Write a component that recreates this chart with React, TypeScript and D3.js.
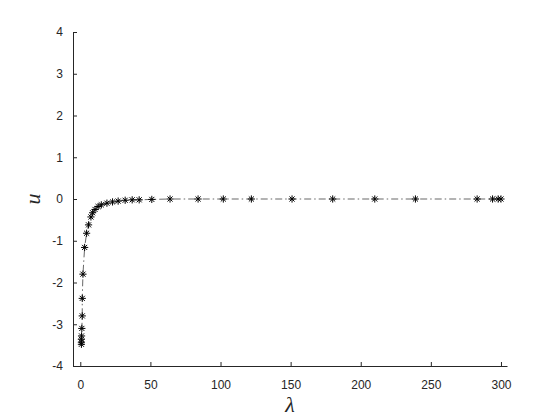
import React, { useEffect, useRef } from 'react';
import * as d3 from 'd3';

// data
const lambdaValues = [
  0.8, 0.8, 0.8, 0.9, 1.1, 1.4, 1.4, 1.9, 3.1, 4.5, 5.9, 7.6, 8.8, 10.5, 12.7, 15, 19, 23, 27, 32, 37, 42,
  51, 64, 84, 102, 122, 151, 180, 210, 239, 283, 294, 298, 300,
];
const uValues = [
  -3.48, -3.43, -3.36, -3.28, -3.1, -2.8, -2.38, -1.8, -1.16, -0.82, -0.62, -0.43, -0.33, -0.25, -0.18,
  -0.14, -0.1, -0.07, -0.05, -0.03, -0.02, -0.02, -0.01, 0, 0, 0, 0, 0, 0, 0, 0, 0, 0, 0, 0,
];
const xTicks = [0, 50, 100, 150, 200, 250, 300];
const yTicks = [-4, -3, -2, -1, 0, 1, 2, 3, 4];

export default function App() {
  const ref = useRef<SVGSVGElement>(null);

  useEffect(() => {
    draw();
    // eslint-disable-next-line react-hooks/exhaustive-deps
  }, []);

  function draw() {
    const svg = d3.select(ref.current);
    svg.selectAll('*').remove();
    const width = 560;
    const height = 420;
    const margin = { top: 32, right: 53, bottom: 54, left: 73 };
    const innerWidth = width - margin.left - margin.right;
    const innerHeight = height - margin.top - margin.bottom;
    const axisColor = '#262626';
    const font = '"Liberation Sans", Arial, sans-serif';

    svg.append('rect').attr('width', width).attr('height', height).attr('fill', '#fff');
    const g = svg.append('g').attr('transform', `translate(${margin.left},${margin.top})`);

    const xScale = d3.scaleLinear().domain([-5.2, 304.3]).range([0, innerWidth]);
    const yScale = d3.scaleLinear().domain([-4, 4]).range([innerHeight, 0]);

    // axes, ticks pointing inward, plain hyphen minus like matlab
    const fmt = (d: d3.NumberValue) => String(d);
    const xAxis = d3.axisBottom(xScale).tickValues(xTicks).tickFormat(fmt).tickSizeInner(-4).tickSizeOuter(0).tickPadding(14);
    const yAxis = d3.axisLeft(yScale).tickValues(yTicks).tickFormat(fmt).tickSizeInner(-4).tickSizeOuter(0).tickPadding(10);
    const gx = g.append('g').attr('transform', `translate(0,${innerHeight})`).call(xAxis);
    const gy = g.append('g').call(yAxis);
    [gx, gy].forEach((a) => {
      a.select('.domain').attr('stroke', axisColor).attr('stroke-width', 1);
      a.selectAll('.tick line').attr('stroke', axisColor);
      a.selectAll('.tick text').attr('fill', axisColor).attr('font-family', font).attr('font-size', 12);
    });

    const points: [number, number][] = lambdaValues.map((d, i) => [d, uValues[i]]);

    const line = d3
      .line<[number, number]>()
      .x((d) => xScale(d[0]))
      .y((d) => yScale(d[1]));
    g.append('path')
      .datum(points)
      .attr('d', line)
      .attr('fill', 'none')
      .attr('stroke', '#000')
      .attr('stroke-width', 0.6)
      .attr('stroke-dasharray', '7,3,1.5,3');

    // asterisk markers
    const r = 3.6;
    const k = r * 0.7071;
    const star = `M${-r},0H${r}M0,${-r}V${r}M${-k},${-k}L${k},${k}M${-k},${k}L${k},${-k}`;
    g.selectAll('.mark')
      .data(points)
      .enter()
      .append('path')
      .attr('class', 'mark')
      .attr('d', star)
      .attr('transform', (d) => `translate(${xScale(d[0])},${yScale(d[1])})`)
      .attr('fill', 'none')
      .attr('stroke', '#000')
      .attr('stroke-width', 1);

    // axis labels
    svg.append('text')
      .text('λ')
      .attr('x', margin.left + innerWidth / 2)
      .attr('y', 412)
      .attr('text-anchor', 'middle')
      .attr('font-family', '"Liberation Serif", "Times New Roman", serif')
      .attr('font-style', 'italic')
      .attr('font-size', 22)
      .attr('fill', axisColor);
    svg.append('text')
      .text('u')
      .attr('transform', `translate(40,${margin.top + yScale(0)}) rotate(-90)`)
      .attr('text-anchor', 'middle')
      .attr('font-family', '"Liberation Serif", "Times New Roman", serif')
      .attr('font-style', 'italic')
      .attr('font-size', 22)
      .attr('fill', axisColor);
  }

  return <svg ref={ref} width={560} height={420} style={{ position: 'absolute', left: 0, top: 0 }}></svg>;
}
